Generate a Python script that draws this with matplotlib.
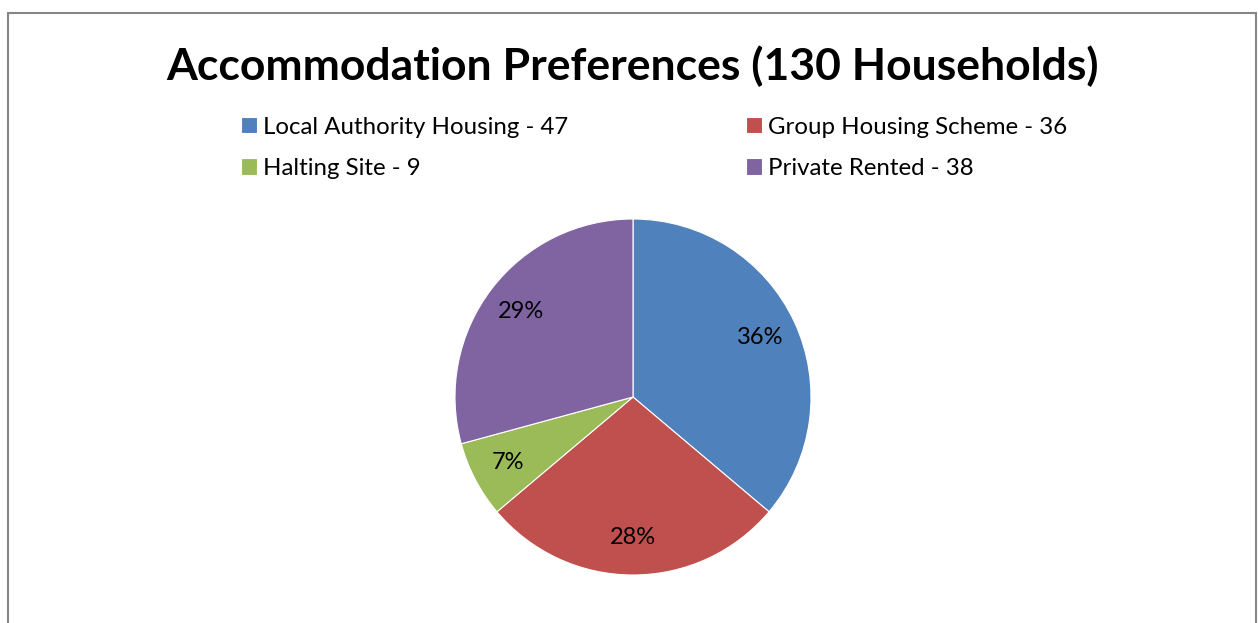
import matplotlib.pyplot as plt
from matplotlib.patches import Rectangle

categories = ["Local Authority Housing", "Group Housing Scheme", "Halting Site", "Private Rented"]
households = [47, 36, 9, 38]
colors = ["#4F81BD", "#C0504D", "#9BBB59", "#8064A2"]
title = "Accommodation Preferences (130 Households)"

plt.rcParams['font.family'] = ['Lato', 'DejaVu Sans']

fig = plt.figure(figsize=(12.58, 6.23), dpi=100)

# chart frame
fig.patches.append(Rectangle((8 / 1258, -0.05), 1248 / 1258, 1.05 - 13 / 623,
                             transform=fig.transFigure, fill=False,
                             edgecolor="#868686", linewidth=1.5))

fig.text(633 / 1258, 1 - 66 / 623, title, ha="center", va="center",
         fontsize=32, fontweight="bold")

# pie: center (633, 397), radius 178 px
r = 178
ax = fig.add_axes([(633 - r) / 1258, (623 - 397 - r) / 623, 2 * r / 1258, 2 * r / 623])
wedges, texts, autotexts = ax.pie(households, colors=colors, startangle=90, counterclock=False,
                                  autopct=lambda p: "%d%%" % round(p), pctdistance=0.79,
                                  wedgeprops=dict(edgecolor="white", linewidth=0.8),
                                  textprops=dict(fontsize=17))
ax.set_xlim(-1, 1)
ax.set_ylim(-1, 1)
ax.set_aspect("equal")

labels = ["%s - %d" % (c, v) for c, v in zip(categories, households)]
# legend order: row-major pairs
order = [0, 2, 1, 3]
fig.legend([wedges[i] for i in order], [labels[i] for i in order], ncol=2,
           loc="upper left", bbox_to_anchor=(219 / 1258, 1 - 95 / 623),
           frameon=False, fontsize=17.3, handlelength=0.68, handleheight=0.68,
           handletextpad=0.25, columnspacing=7.4, labelspacing=0.84)

fig.savefig("out.png", dpi=100, facecolor="white")
